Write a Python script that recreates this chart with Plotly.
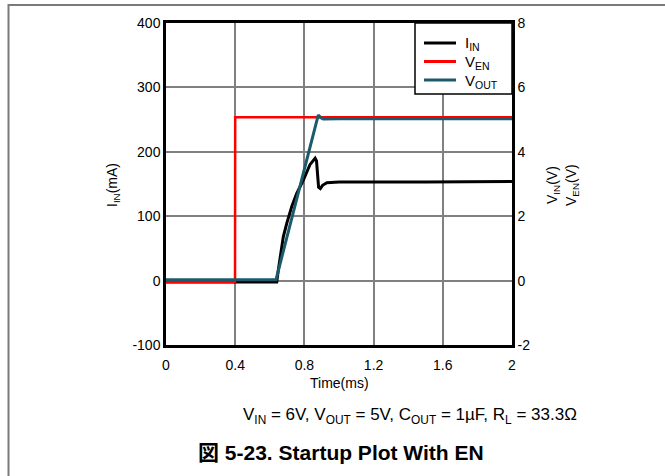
import plotly.graph_objects as go

# ---- data (time in ms) ----
t_en = [0.0, 0.20, 0.399, 0.400, 0.60, 1.00, 1.50, 2.00]
v_en = [-0.04, -0.04, -0.04, 5.07, 5.07, 5.07, 5.07, 5.07]

t_in = [0.0, 0.40, 0.640, 0.649, 0.659, 0.678, 0.698, 0.727, 0.755, 0.794,
        0.832, 0.850, 0.862, 0.870, 0.876, 0.882, 0.892, 0.905, 0.930, 1.00,
        1.50, 2.00]
i_in = [-2, -2, -2, 16, 37, 68, 89, 115, 135, 156,
        180, 187, 190, 186, 165, 145, 143, 148, 152, 153,
        153, 154]

t_out = [0.0, 0.20, 0.40, 0.636, 0.880, 0.895, 0.909, 1.00, 1.50, 2.00]
v_out = [0.03, 0.03, 0.03, 0.03, 5.14, 5.06, 5.02, 5.03, 5.03, 5.03]

x_ticks = [0, 0.4, 0.8, 1.2, 1.6, 2]
x_tick_text = ["0", "0.4", "0.8", "1.2", "1.6", "2"]
i_ticks = [-100, 0, 100, 200, 300, 400]
i_tick_text = ["-100", "0", "100", "200", "300", "400"]
v_ticks = [-2, 0, 2, 4, 6, 8]
v_tick_text = ["-2", "0", "2", "4", "6", "8"]

series_names = ["I<sub>IN</sub>", "V<sub>EN</sub>", "V<sub>OUT</sub>"]
series_colors = ["#000000", "#ff0000", "#1b5b6b"]

W, H = 665, 476
L, R, T, B = 166, 512, 23, 345  # plot area in px


def px(x):
    return (x - L) / (R - L)


def py(y):
    return (B - y) / (B - T)


FONT = "Liberation Sans, Arial, sans-serif"

fig = go.Figure()
fig.add_trace(go.Scatter(x=t_en, y=v_en, name=series_names[1], yaxis="y2",
                         mode="lines", line=dict(color=series_colors[1], width=2.5)))
fig.add_trace(go.Scatter(x=t_in, y=i_in, name=series_names[0], yaxis="y",
                         mode="lines", line=dict(color=series_colors[0], width=3)))
fig.add_trace(go.Scatter(x=t_out, y=v_out, name=series_names[2], yaxis="y2",
                         mode="lines", line=dict(color=series_colors[2], width=3)))

axis_common = dict(showline=True, linecolor="black", linewidth=2.5,
                   ticks="", zeroline=False,
                   tickfont=dict(family=FONT, size=14, color="black"))

fig.update_layout(
    width=W, height=H,
    margin=dict(l=L, r=W - R, t=T, b=H - B, pad=0),
    paper_bgcolor="white", plot_bgcolor="white",
    font=dict(family=FONT, size=14, color="black"),
    xaxis=dict(range=[0, 2], tickvals=x_ticks, ticktext=x_tick_text,
               showgrid=True, gridcolor="#808080", gridwidth=1.5,
               mirror=True, ticklabelstandoff=5, **axis_common),
    yaxis=dict(range=[-100, 400], tickvals=i_ticks, ticktext=i_tick_text,
               showgrid=True, gridcolor="#808080", gridwidth=1.5,
               mirror=True, **axis_common),
    yaxis2=dict(range=[-2, 8], tickvals=v_ticks, ticktext=v_tick_text,
                overlaying="y", side="right", showgrid=False, **axis_common),
    showlegend=False,
)

ann = [
    dict(text="Time(ms)", x=px(339), y=py(383), font_size=14),
    dict(text="I<sub>IN</sub>(mA)", x=px(113), y=py(185), font_size=14,
         textangle=-90),
    dict(text="V<sub>IN</sub>(V)", x=px(553), y=py(185), font_size=14,
         textangle=-90),
    dict(text="V<sub>EN</sub>(V)", x=px(572), y=py(185), font_size=14,
         textangle=-90),
    dict(text="V<sub>IN</sub> = 6V, V<sub>OUT</sub> = 5V, C<sub>OUT</sub> = 1µF, "
              "R<sub>L</sub> = 33.3Ω",
         x=px(410), y=py(416), font_size=17),
    dict(text="<b>図 5-23. Startup Plot With EN</b>", x=px(341), y=py(452),
         font=dict(size=21, family="Liberation Sans, Noto Sans CJK JP, sans-serif")),
]
for a in ann:
    fig.add_annotation(xref="paper", yref="paper", showarrow=False,
                       xanchor="center", yanchor="middle", **a)

# legend box with line samples and labels
fig.add_shape(type="rect", xref="paper", yref="paper",
              x0=px(415), x1=px(512), y0=py(94), y1=py(23),
              fillcolor="white", line=dict(color="black", width=1.5), layer="above")
for k, (name, col) in enumerate(zip(series_names, series_colors)):
    yy = 44 + 18.5 * k
    fig.add_shape(type="line", xref="paper", yref="paper",
                  x0=px(424), x1=px(456), y0=py(yy - 1), y1=py(yy - 1),
                  line=dict(color=col, width=3), layer="above")
    fig.add_annotation(xref="paper", yref="paper", showarrow=False,
                       x=px(463), y=py(yy), xanchor="left", yanchor="middle",
                       text=name, font=dict(family=FONT, size=15, color="black"))

# page frame lines
fig.add_shape(type="line", xref="paper", yref="paper",
              x0=px(8), x1=px(665), y0=py(5), y1=py(5),
              line=dict(color="#7a7a7a", width=2))
fig.add_shape(type="line", xref="paper", yref="paper",
              x0=px(8.5), x1=px(8.5), y0=py(4), y1=py(476),
              line=dict(color="#7a7a7a", width=2))

fig.write_html("out.html")
